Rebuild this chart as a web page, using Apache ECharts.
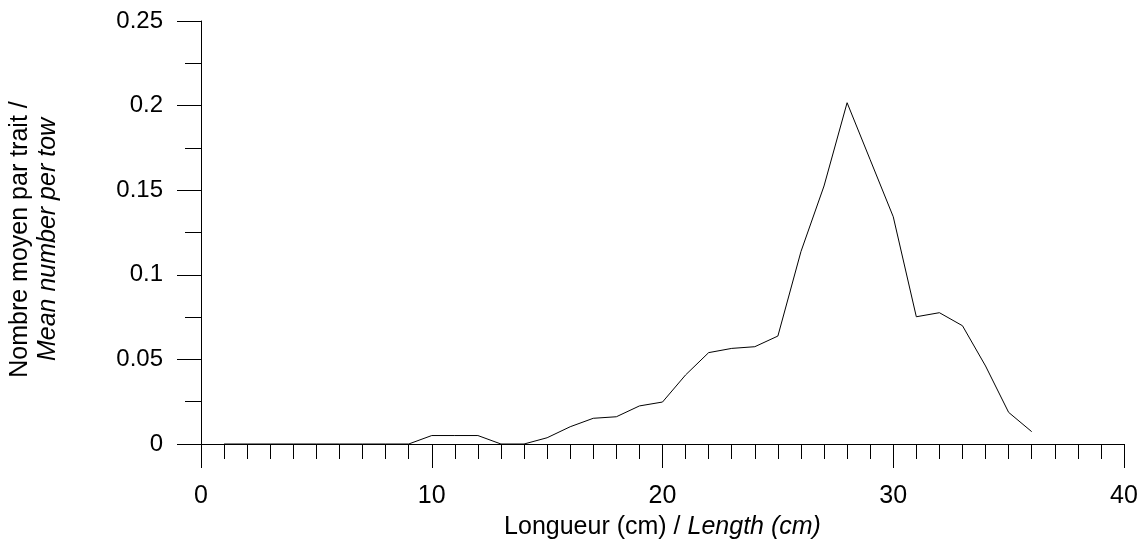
<!DOCTYPE html>
<html>
<head>
<meta charset="utf-8">
<script src="https://cdn.jsdelivr.net/npm/echarts@6/dist/echarts.min.js"></script>
<style>html,body{margin:0;padding:0;background:#fff;}#c{width:1144px;height:542px;}</style>
</head>
<body>
<div id="c"></div>
<script>
const lengths = [1,2,3,4,5,6,7,8,9,10,11,12,13,14,15,16,17,18,19,20,21,22,23,24,25,26,27,28,29,30,31,32,33,34,35,36];
const meanNumber = [0,0,0,0,0,0,0,0,0,0.005,0.005,0.005,0,0,0.0037,0.0102,0.0152,0.0161,0.0225,0.0248,0.0408,0.054,0.0565,0.0575,0.0638,0.1137,0.1525,0.2017,0.168,0.1343,0.0752,0.0776,0.0699,0.0461,0.0187,0.0073];
const yTickLabels = ['0','0.05','0.1','0.15','0.2','0.25'];
const xTickLabels = ['0','10','20','30','40'];

const FONT = "'Liberation Sans', Arial, sans-serif";
const chart = echarts.init(document.getElementById('c'), null, {renderer:'canvas'});
chart.setOption({
  animation:false,
  backgroundColor:'#fff',
  grid:{left:201, right:20, top:21, bottom:98, containLabel:false, outerBoundsMode:'none'},
  xAxis:{
    type:'value', min:0, max:40, interval:10,
    axisLine:{show:true, lineStyle:{color:'#000', width:1}},
    axisTick:{show:true, length:24, lineStyle:{color:'#000', width:1}},
    minorTick:{show:true, splitNumber:10, length:15, lineStyle:{color:'#000', width:1}},
    splitLine:{show:false},
    axisLabel:{margin:40, color:'#000', fontSize:25, fontFamily:FONT,
      formatter:(v)=>xTickLabels[Math.round(v/10)]},
    name:'{n|Longueur (cm) / }{i|Length (cm)}',
    nameLocation:'middle', nameGap:71,
    nameTextStyle:{rich:{
      n:{fontSize:25, fontFamily:FONT, color:'#000'},
      i:{fontSize:25, fontFamily:FONT, color:'#000', fontStyle:'italic'}
    }}
  },
  yAxis:{
    type:'value', min:0, max:0.25, interval:0.05,
    axisLine:{show:true, lineStyle:{color:'#000', width:1}},
    axisTick:{show:true, length:24, lineStyle:{color:'#000', width:1}},
    minorTick:{show:true, splitNumber:2, length:16, lineStyle:{color:'#000', width:1}},
    splitLine:{show:false},
    axisLabel:{margin:38, color:'#000', fontSize:24, fontFamily:FONT,
      formatter:(v)=>yTickLabels[Math.round(v/0.05)]},
    name:'{n|Nombre moyen par trait /}\n{i|Mean number per tow}',
    nameLocation:'middle', nameGap:139, nameRotate:90,
    nameTextStyle:{lineHeight:28, padding:[0,14,0,0], rich:{
      n:{fontSize:25, fontFamily:FONT, color:'#000', lineHeight:28},
      i:{fontSize:25, fontFamily:FONT, color:'#000', fontStyle:'italic', lineHeight:28}
    }}
  },
  series:[{
    type:'line',
    data: lengths.map((x,i)=>[x, meanNumber[i]]),
    showSymbol:false, symbol:'none',
    lineStyle:{color:'#000', width:1},
    z:3
  }]
});
</script>
</body>
</html>
